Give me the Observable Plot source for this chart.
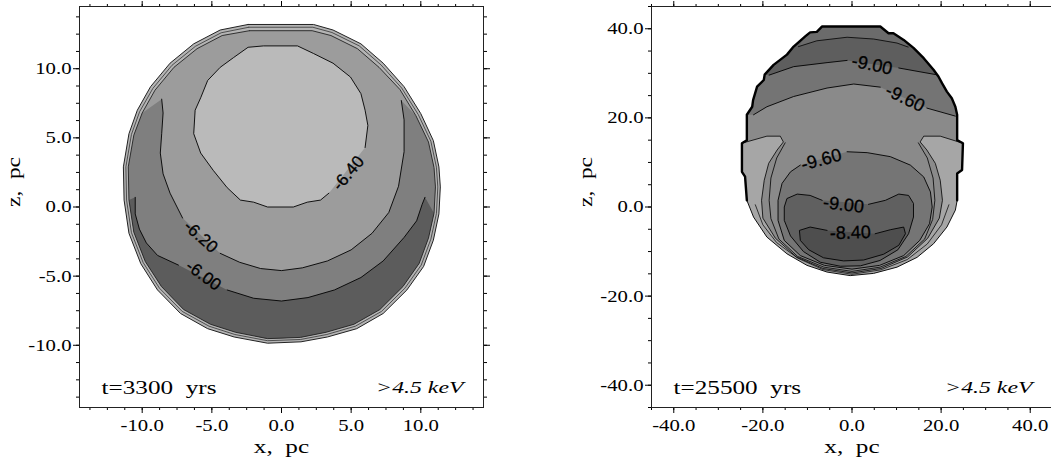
<!DOCTYPE html>
<html><head><meta charset="utf-8">
<script src="https://cdn.jsdelivr.net/npm/d3@7"></script>
<script src="https://cdn.jsdelivr.net/npm/@observablehq/plot@0.6"></script>
<style>
html,body{margin:0;padding:0;background:#fff;overflow:hidden;width:1051px;height:466px}
#wrap{position:relative;width:1051px;height:466px;overflow:hidden}
.panel{position:absolute;top:0}
#wrap svg{font-family:'Liberation Serif','Times New Roman',serif;font-size:17px;color:#000;background:transparent;max-width:none;overflow:visible}
</style></head>
<body><div id="wrap"><div id="p1" class="panel" style="left:0;width:530px"></div><div id="p2" class="panel" style="left:560px;width:560px"></div></div>
<script>
// ---------- LEFT PANEL (t=3300 yrs), coordinates [x, z] in pc ----------
const leftTitle = "t=3300\u00a0 yrs";
const energyLabel = ">4.5 keV";
const xLabel = "x,\u00a0 pc", zLabel = "z,\u00a0 pc";
const leftMajorTicks = [-10, -5, 0, 5, 10];
const leftMinorTicks = d3.range(-13.75, 14, 1.25);

const leftRimOuter = [[-2.4,13.2],[2.3,13.2],[3.7,12.8],[5.7,11.8],[7.3,10.4],[8.8,8.7],[10.0,6.75],[10.9,4.8],[11.3,2.9],[11.4,1.45],[11.3,-0.5],[10.9,-2.4],[10.2,-4.3],[9.0,-6.0],[7.3,-7.7],[5.4,-8.8],[3.3,-9.4],[1.4,-9.75],[-1.0,-9.85],[-3.4,-9.4],[-5.3,-8.8],[-7.25,-7.7],[-8.9,-6.0],[-10.1,-4.1],[-10.95,-1.9],[-11.3,0.5],[-11.35,2.9],[-10.95,5.3],[-10.35,7.0],[-9.4,8.7],[-8.0,10.4],[-6.3,11.8],[-4.4,12.8]];
const leftRimMid = [[-2.35,13.0],[2.25,13.0],[3.62,12.62],[5.58,11.65],[7.15,10.27],[8.63,8.6],[9.82,6.68],[10.72,4.76],[11.12,2.88],[11.22,1.45],[11.12,-0.48],[10.72,-2.33],[10.03,-4.2],[8.86,-5.87],[7.18,-7.55],[5.3,-8.62],[3.25,-9.22],[1.38,-9.58],[-1.0,-9.67],[-3.35,-9.22],[-5.2,-8.62],[-7.13,-7.55],[-8.76,-5.87],[-9.93,-4.02],[-10.77,-1.86],[-11.12,0.5],[-11.17,2.9],[-10.77,5.25],[-10.18,6.9],[-9.23,8.58],[-7.86,10.25],[-6.18,11.62],[-4.33,12.6]];
const leftRimInner = [[-2.3,12.75],[2.2,12.75],[3.55,12.4],[5.45,11.45],[7.0,10.1],[8.5,8.5],[9.65,6.6],[10.55,4.7],[10.95,2.85],[11.05,1.45],[10.95,-0.45],[10.55,-2.25],[9.88,-4.08],[8.72,-5.75],[7.06,-7.42],[5.2,-8.48],[3.2,-9.06],[1.36,-9.43],[-1.0,-9.52],[-3.3,-9.06],[-5.1,-8.48],[-7.02,-7.42],[-8.62,-5.75],[-9.78,-3.94],[-10.6,-1.82],[-10.95,0.5],[-11.0,2.9],[-10.6,5.2],[-10.0,6.8],[-9.08,8.45],[-7.72,10.1],[-6.06,11.45],[-4.26,12.4]];
// contour -6.40 (closed; open gap where its label sits)
const leftC640 = [[6.0,4.3],[6.2,5.9],[6.0,7.0],[5.7,8.2],[4.95,9.4],[3.7,10.4],[2.3,11.1],[1.15,11.65],[-1.3,11.65],[-2.4,11.55],[-3.45,10.8],[-4.4,10.1],[-5.3,9.15],[-5.8,7.9],[-6.2,7.0],[-6.3,5.3],[-5.8,3.9],[-4.9,2.65],[-3.9,1.4],[-2.95,0.5],[-2.0,0.35],[-1.0,0],[0.85,0],[1.85,0.35],[2.8,0.5],[3.4,1.0]];
// contour -6.20 (open crescent; null = label gap)
const leftC620 = [[-8.6,7.8],[-8.5,6.8],[-8.6,5.3],[-8.7,3.9],[-8.5,2.4],[-8.0,1.0],[-7.1,-0.8],null,[-4.4,-3.35],[-3.0,-4.0],[-1.5,-4.45],[0,-4.6],[1.5,-4.4],[3.3,-3.9],[5.0,-3.1],[6.5,-1.9],[7.7,-0.4],[8.4,1.5],[8.8,4.0],[8.8,6.3],[8.6,7.7]];
// contour -6.00
const leftC600 = [[-10.5,0.7],[-10.5,-0.5],[-10.2,-1.6],[-9.7,-2.6],[-8.9,-3.5],[-7.4,-4.2],null,[-3.9,-6.0],[-2.0,-6.6],[0,-6.8],[1.9,-6.55],[3.8,-6.0],[5.7,-5.1],[7.3,-3.9],[8.8,-2.2],[9.7,-1.0],[10.1,0.2],[10.3,0.7]];
const leftLabels = [
  {t: "-6.40", x: 4.8, z: 2.45, a: -50},
  {t: "-6.20", x: -5.8, z: -2.15, a: 42},
  {t: "-6.00", x: -5.6, z: -4.95, a: 36}
];

// ---------- RIGHT PANEL (t=25500 yrs) ----------
const rightTitle = "t=25500\u00a0 yrs";
const rightMajorTicks = [-40, -20, 0, 20, 40];
const rightMinorTicks = d3.range(-45, 46, 5);

const rightBoundary = [[-23.6,1.5],[-24.0,6.8],[-24.7,7.9],[-24.7,14.3],[-23.6,15.0],[-23.6,20.7],[-22.4,22.5],[-22.2,24.0],[-21.3,27.0],[-19.8,28.5],[-19.6,29.7],[-17.6,31.9],[-14.6,34.2],[-13.1,36.0],[-10.5,38.3],[-9.4,39.2],[-7.9,39.3],[-6.75,40.5],[6.35,40.5],[8.2,39.0],[9.3,39.0],[11.6,37.5],[13.8,35.7],[16.1,33.4],[18.3,30.8],[19.4,29.3],[20.2,27.8],[21.3,25.9],[22.4,24.4],[23.2,22.5],[23.6,20.7],[23.6,15.0],[24.9,14.3],[24.7,8.3],[23.6,7.5],[23.6,1.5],[23.2,-0.7],[21.3,-4.5],[18.3,-8.25],[14.6,-11.3],[10.1,-13.5],[4.85,-14.9],[-0.4,-15.4],[-5.6,-14.6],[-10.1,-13.1],[-14.6,-10.5],[-19.1,-6.75],[-22.1,-2.25]];
// inner edge of side lobes (-10.20)
const rightC1020 = [[24.6,14.4],[19.8,15.9],[16.1,15.9],[15.3,14.6],[16.8,12.8],[18.7,9.8],[19.8,6.0],[20.3,1.5],[19.6,-2.5],[17.0,-7.0],[12.5,-11.2],[6.5,-13.8],[0,-14.8],[-6.5,-13.8],[-12.5,-11.2],[-17.2,-7.0],[-20.0,-2.5],[-20.3,1.5],[-19.7,6.0],[-18.7,9.8],[-16.8,12.8],[-15.4,14.6],[-16.1,15.9],[-19.1,15.9],[-24.4,14.4]];
// intermediate side contour (between lobes and -9.60)
const rightC990 = [[-15.0,14.4],[-16.9,11.0],[-18.2,6.5],[-18.6,1.5],[-18.2,-2.6],[-16.4,-7.2],[-12.2,-11.1],[-6.3,-13.5],[0,-14.45],[6.3,-13.5],[12.1,-11.1],[16.3,-7.2],[18.1,-2.8],[18.6,1.5],[18.2,6.5],[16.9,11.0],[14.9,14.4]];
const rightRim = [[-21.7,0.5],[-20.0,-4.0],[-16.9,-8.0],[-12.15,-11.5],[-6.5,-14.05],[0,-15.1],[6.5,-14.1],[12.4,-11.8],[16.9,-8.3],[20.1,-4.0],[21.75,0.5]];
const rightC960upper = [[-22.1,20.7],[-19.1,22.5],[-13.1,24.8],[-5.6,26.7],[0.4,27.6],[6.35,26.9],null,[16.8,22.2],[23.2,20.4]];
const rightC900upper = [[-18.6,29.6],[-13.1,31.5],[-5.6,32.4],[-1.1,32.9],null,[10.5,31.2],[15.5,30.3],[18.9,29.7]];
const rightCapLine = [[-12.0,36.0],[-7.9,37.3],[-1.1,38.1],[4.85,37.7],[10.1,36.8],[12.6,35.9]];
const rightC960lower = [[-1.1,12.4],[3.4,12.2],[8.6,11.3],[13.1,9.4],[16.1,6.75],[17.6,3.4],[18.0,0],[17.4,-3.75],[15.2,-7.5],[11.6,-10.9],[6.2,-13.1],[0,-13.95],[-6.2,-13.1],[-11.6,-10.9],[-15.2,-7.5],[-16.6,-3.0],[-16.6,1.5],[-15.7,5.3],[-13.8,7.9],[-11.6,9.4]];
const rightC900lower = [[3.7,0.6],[7.5,1.5],[10.5,2.9],[12.7,2.6],[13.8,0.8],[13.8,-2.25],[12.7,-6.0],[10.3,-9.6],[6.3,-12.0],[1.9,-13.2],[-2.6,-13.3],[-7.1,-12.4],[-10.9,-10.0],[-13.8,-6.5],[-15.2,-3.0],[-15.2,0],[-14.6,1.9],[-12.3,2.9],[-9.4,2.6],[-6.7,1.5]];
const rightC840 = [[5.2,-6.0],[8.6,-5.1],[11.6,-4.5],[12.0,-6.0],[10.5,-8.6],[7.1,-10.6],[2.6,-11.9],[-1.9,-12.1],[-6.4,-11.4],[-9.7,-9.6],[-11.6,-7.5],[-11.8,-5.25],[-9.4,-4.5],[-5.6,-5.25]];
const rightLabels = [
  {t: "-9.00", x: 4.5, z: 31.9, a: 12},
  {t: "-9.60", x: 11.9, z: 24.4, a: 26},
  {t: "-9.60", x: -6.9, z: 10.6, a: -15},
  {t: "-9.00", x: -1.9, z: 0.5, a: 7},
  {t: "-8.40", x: -0.4, z: -5.8, a: -2}
];

// ---------- helpers ----------
const X = d => d ? d[0] : NaN, Y = d => d ? d[1] : NaN;
const solid = a => a.filter(Boolean);
const fillPoly = (a, color) => Plot.line(solid(a), {x: X, y: Y, fill: color, stroke: "none"});
const strokeLine = (a, w = 0.9, c = "#000") => Plot.line(a, {x: X, y: Y, stroke: c, strokeWidth: w, fill: "none"});
const loop = a => a.concat([a[0]]);
const fmt = d => d.toFixed(1);
const blank = () => "";
const SERIF = "'Liberation Serif', 'Times New Roman', serif";

function axes(major, minor) {
  return [
    Plot.axisX({anchor: "bottom", ticks: major, tickSize: 6, tickPadding: 5, tickFormat: fmt, label: null, fontSize: 17, fontFamily: SERIF}),
    Plot.axisX({anchor: "bottom", ticks: minor, tickSize: 3, tickFormat: blank, label: null}),
    Plot.axisX({anchor: "top", ticks: major, tickSize: 6, tickFormat: blank, label: null}),
    Plot.axisX({anchor: "top", ticks: minor, tickSize: 3, tickFormat: blank, label: null}),
    Plot.axisY({anchor: "left", ticks: major, tickSize: 6, tickPadding: 2, tickFormat: fmt, label: null, fontSize: 17, fontFamily: SERIF}),
    Plot.axisY({anchor: "left", ticks: minor, tickSize: 3, tickFormat: blank, label: null}),
    Plot.axisY({anchor: "right", ticks: major, tickSize: 6, tickFormat: blank, label: null}),
    Plot.axisY({anchor: "right", ticks: minor, tickSize: 3, tickFormat: blank, label: null}),
    Plot.frame({stroke: "#222"})
  ];
}
function annotations(title) {
  return [
    Plot.text([title], {frameAnchor: "bottom-left", dx: 22, dy: -19, textAnchor: "start", lineAnchor: "middle", fontSize: 18}),
    Plot.text([energyLabel], {frameAnchor: "bottom-right", dx: -20, dy: -20, textAnchor: "end", lineAnchor: "middle", fontSize: 17, fontStyle: "italic"}),
    Plot.text([xLabel], {frameAnchor: "bottom", dy: 40, lineAnchor: "middle", fontSize: 18}),
    Plot.text([zLabel], {frameAnchor: "left", dx: -65, rotate: -90, lineAnchor: "middle", fontSize: 18})
  ];
}
const clabels = (data, size) => Plot.text(data, {x: "x", y: "z", text: "t", rotate: "a", fontSize: size,
  fontFamily: "'Liberation Sans', Arial, sans-serif", fill: "#000", stroke: "#000", strokeWidth: 0.3});

// band polygons for the left panel (contour + inner rim)
const band620 = solid(leftC620).concat(leftRimInner.filter(p => p[1] < 7.7));
const band600 = solid(leftC600).concat(leftRimInner.filter(p => p[1] < 0.7));

const left = Plot.plot({
  width: 530, height: 466, marginLeft: 79, marginRight: 47, marginTop: 6, marginBottom: 59,
  x: {domain: [-14.5, 14.5]}, y: {domain: [-14.5, 14.5]},
  marks: [
    fillPoly(leftRimOuter, "#b4b4b4"),
    fillPoly(leftRimInner, "#9c9c9c"),
    fillPoly(band620, "#7f7f7f"),
    fillPoly(band600, "#5c5c5c"),
    fillPoly(leftC640, "#bababa"),
    strokeLine(loop(leftRimOuter), 1, "#222"),
    strokeLine(loop(leftRimMid), 0.8, "#333"),
    strokeLine(loop(leftRimInner), 0.9, "#222"),
    strokeLine(leftC640), strokeLine(leftC620), strokeLine(leftC600),
    clabels(leftLabels, 17),
    ...axes(leftMajorTicks, leftMinorTicks),
    ...annotations(leftTitle)
  ]
});

// region polygons for the right panel
const rbTop = z0 => rightBoundary.filter(p => p[1] >= z0);
const regionMid = rbTop(14.3).concat(rightC1020);
const regionUp960 = solid(rightC960upper).concat(rbTop(20.6).reverse());
const regionUp900 = solid(rightC900upper).concat(rbTop(29.5).reverse());
const regionCap = rightCapLine.concat(rbTop(36.2).reverse());
const iSplit = rightBoundary.findIndex((p, i) => i > 0 && p[1] < 1.5);
const rbUpper = rightBoundary.slice(0, iSplit);
const rbLower = rightBoundary.slice(iSplit - 1).concat([rightBoundary[0]]);

const right = Plot.plot({
  width: 560, height: 466, marginLeft: 91, marginRight: 68, marginTop: 6, marginBottom: 59,
  x: {domain: [-45, 45]}, y: {domain: [-45, 45]},
  marks: [
    fillPoly(rightBoundary, "#a6a6a6"),
    fillPoly(regionMid, "#8a8a8a"),
    fillPoly(regionUp960, "#747474"),
    fillPoly(regionUp900, "#5e5e5e"),
    fillPoly(regionCap, "#6b6b6b"),
    fillPoly(rightC960lower, "#757575"),
    fillPoly(rightC900lower, "#606060"),
    fillPoly(rightC840, "#4e4e4e"),
    strokeLine(rightRim, 0.8, "#111"),
    strokeLine(rightC990, 0.8),
    strokeLine(rightC1020, 0.8), strokeLine(rightC960upper, 0.9), strokeLine(rightC900upper, 0.9), strokeLine(rightCapLine, 0.8),
    strokeLine(rightC960lower, 0.9), strokeLine(rightC900lower, 0.9), strokeLine(rightC840, 0.9),
    strokeLine(rbLower, 1, "#111"),
    strokeLine(rbUpper, 2.4, "#000"),
    clabels(rightLabels, 18),
    ...axes(rightMajorTicks, rightMinorTicks),
    ...annotations(rightTitle)
  ]
});

document.getElementById("p1").appendChild(left);
document.getElementById("p2").appendChild(right);

function setStretch(t, f) {
  const w = t.getComputedTextLength();
  if (w > 0) { t.setAttribute("textLength", (w * f).toFixed(1)); t.setAttribute("lengthAdjust", "spacingAndGlyphs"); }
}
const textStretch = new Map([[leftTitle, 1.4], [rightTitle, 1.4], [energyLabel, 1.4], [xLabel, 1.4], [zLabel, 1.3]]);
for (const svg of [left, right]) {
  svg.querySelectorAll('g[aria-label="x-axis tick label"] text, g[aria-label="y-axis tick label"] text').forEach(t => {
    t.style.fontFamily = SERIF;
    t.style.fontVariantNumeric = "normal";
    setStretch(t, 1.22);
  });
  svg.querySelectorAll("text").forEach(t => { const f = textStretch.get(t.textContent); if (f) setStretch(t, f); });
}
</script>
</body></html>
